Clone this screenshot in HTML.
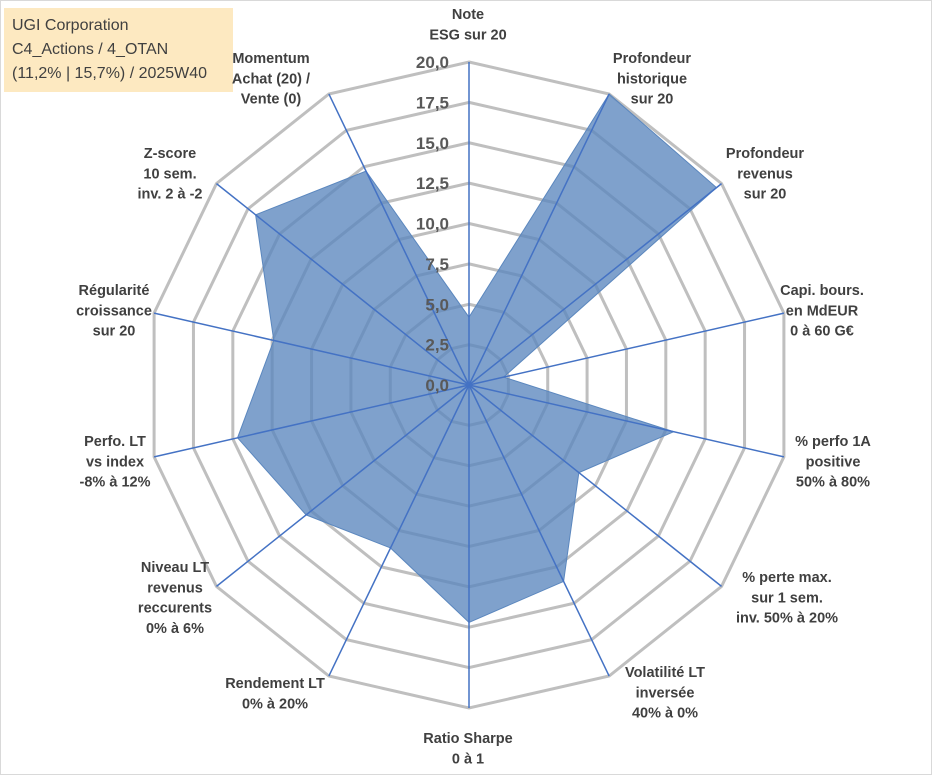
<!DOCTYPE html>
<html><head><meta charset="utf-8"><style>
body{margin:0;background:#fff;}
#wrap{position:relative;width:933px;height:776px;overflow:hidden;font-family:"Liberation Sans",sans-serif;}
svg{position:absolute;left:0;top:0;}
</style></head><body>
<div id="wrap">
<svg id="chart" width="933" height="776">
<rect x="0.5" y="0.5" width="931" height="774" fill="#fff" stroke="#d9d9d9"/>
<rect x="4" y="8" width="229" height="84" fill="#fde9c1"/>
<text x="12" y="30" font-size="16" fill="#404040">UGI Corporation</text>
<text x="12" y="54" font-size="16" fill="#404040">C4_Actions / 4_OTAN</text>
<text x="12" y="78" font-size="16" fill="#404040">(11,2% | 15,7%) / 2025W40</text>
</svg>
</div>
<script>
const categories=["Note|ESG sur 20","Profondeur|historique|sur 20","Profondeur|revenus|sur 20","Capi. bours.|en MdEUR|0 à 60 G€","% perfo 1A|positive|50% à 80%","% perte max.|sur 1 sem.|inv. 50% à 20%","Volatilité LT|inversée|40% à 0%","Ratio Sharpe|0 à 1","Rendement LT|0% à 20%","Niveau LT|revenus|reccurents|0% à 6%","Perfo. LT|vs index|-8% à 12%","Régularité|croissance|sur 20","Z-score|10 sem.|inv. 2 à -2","Momentum|Achat (20) /|Vente (0)"];
const values=[4.2,20,19.6,2.2,13.0,8.7,13.5,14.7,11.2,12.9,14.7,12.4,16.9,14.7];
const ticks=["0,0","2,5","5,0","7,5","10,0","12,5","15,0","17,5","20,0"];
const maxV=20;
const labelPos=[[468,14],[652,58],[765,153],[822,290],[833,441],[787,577],[665,672],[468,738],[275,683],[175,567],[115,441],[114,290],[170,153],[271,58]];
const svg=document.getElementById('chart');
const NS='http://www.w3.org/2000/svg';
const cx=469,cy=385,R=323,n=categories.length;
function pt(i,v){const a=i*2*Math.PI/n;const r=v/maxV*R;return [cx+r*Math.sin(a),cy-r*Math.cos(a)];}
function mk(t,attrs){const e=document.createElementNS(NS,t);for(const k in attrs)e.setAttribute(k,attrs[k]);svg.appendChild(e);return e;}
for(let k=1;k<ticks.length;k++){
 const v=k*2.5;const p=[];for(let i=0;i<n;i++)p.push(pt(i,v).join(','));
 const g=mk('polygon',{points:p.join(' '),fill:'none',stroke:'#bfbfbf','stroke-width':3});
 
 
}
const dp=values.map((v,i)=>pt(i,v).join(',')).join(' ');
const poly=mk('polygon',{points:dp,fill:'#5b87be','fill-opacity':0.78,stroke:'#5b87be','stroke-width':1});


for(let i=0;i<n;i++){
 const e=pt(i,maxV);
 const l=mk('line',{x1:cx,y1:cy,x2:e[0],y2:e[1],stroke:'#4472c4','stroke-width':1.5});
 
 
}
ticks.forEach((t,k)=>{
 const y=cy-k*2.5/maxV*R;
 const tx=mk('text',{x:449,y:y+6,'text-anchor':'end','font-size':17,'font-weight':'bold',fill:'#595959'});
 tx.textContent=t;
 
 
});
categories.forEach((c,i)=>{
 const lines=c.split('|');const [x,y]=labelPos[i];
 const tx=mk('text',{x:x,y:y+5,'text-anchor':'middle','font-size':14.5,'font-weight':'bold',fill:'#404040'});
 lines.forEach((s,j)=>{const ts=document.createElementNS(NS,'tspan');ts.setAttribute('x',x);ts.setAttribute('y',y+5+j*20.3);ts.textContent=s;tx.appendChild(ts);});
 
 
});
</script>
</body></html>
